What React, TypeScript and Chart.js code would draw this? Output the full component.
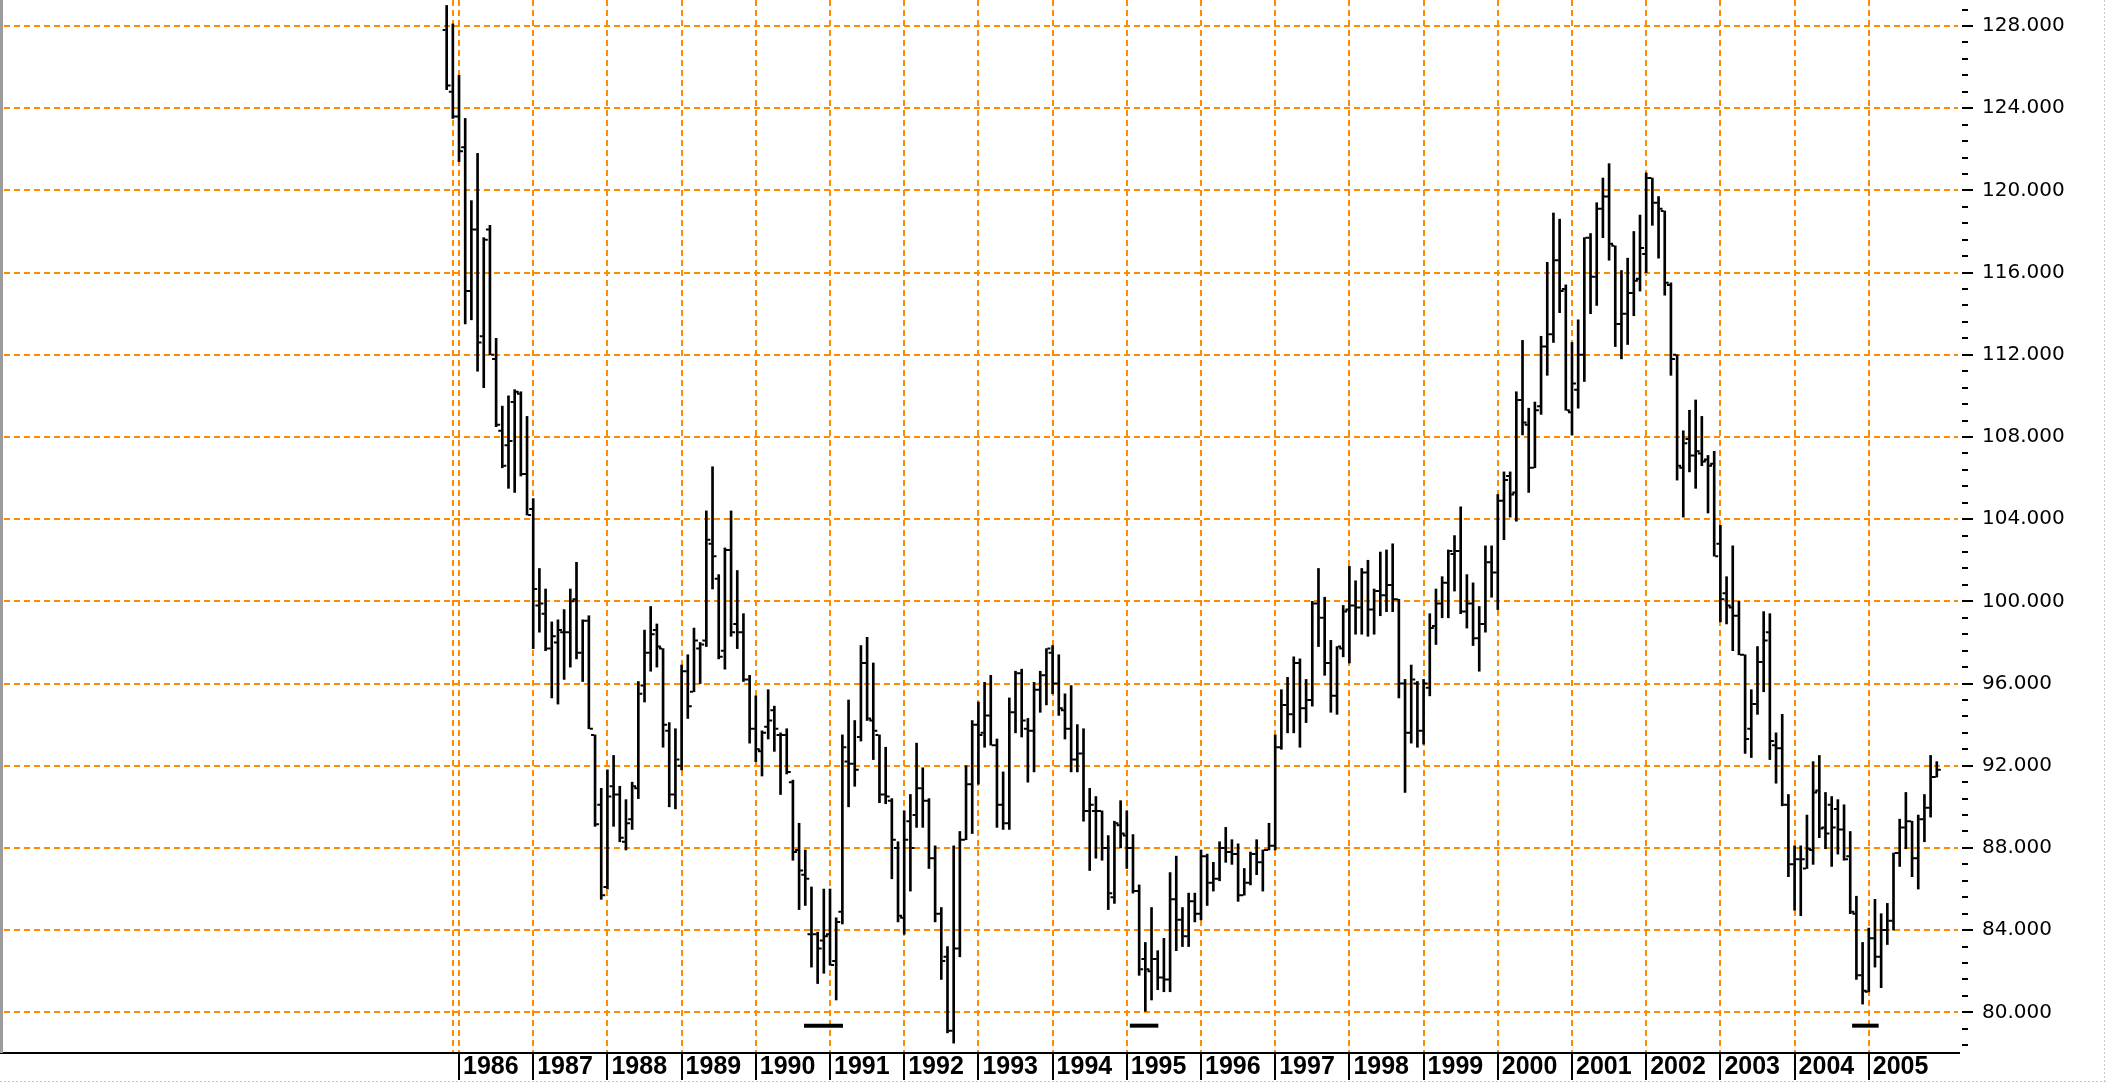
import React, { useEffect, useRef } from 'react';
import { Chart, registerables } from 'chart.js';

Chart.register(...registerables);

// Monthly bars, first bar = Nov 1985 (month index -2, Jan 1986 = 0)
const FIRST_MONTH = -2;

const OPEN = [
  127.8, 124.8,
  123.6, 122.1, 115.1, 118.1, 112.9, 118.1, 111.8, 108.3, 107.6, 109.7, 110.1, 106.2,
  104.5, 99.8, 99.4, 97.7, 98.0, 98.5, 98.5, 100.1, 97.5, 99.05, 93.5, 90.1,
  86.1, 91.0, 90.6, 88.3, 89.4, 90.9, 95.9, 97.5, 98.6, 97.7, 93.7, 90.6,
  92.0, 96.6, 95.6, 97.7, 98.1, 102.8, 101.1, 97.6, 102.5, 98.9, 98.5, 96.2,
  93.8, 92.7, 93.9, 94.7, 93.5, 93.5, 91.2, 87.9, 86.7, 83.8, 83.8, 83.5,
  83.8, 82.5, 84.9, 92.2, 92.1, 93.4, 97.0, 94.2, 93.5, 90.6, 90.3, 88.0,
  84.6, 89.3, 89.6, 90.9, 90.3, 87.5, 84.8, 82.7, 79.1, 83.1, 88.4, 91.1,
  94.0, 93.6, 94.45, 93.0, 90.1, 89.2, 94.6, 96.5, 93.8, 93.7, 95.7, 96.4,
  97.5, 96.0, 94.7, 93.8, 92.3, 92.6, 89.8, 89.8, 89.8, 88.0, 85.6, 89.1,
  88.6, 88.0, 85.9, 82.6, 82.0, 82.6, 81.7, 81.6, 85.5, 84.5, 83.7, 85.4,
  84.8, 87.6, 86.3, 86.5, 88.0, 87.8, 87.7, 85.7, 86.3, 87.7, 87.3, 87.9,
  88.1, 92.9, 94.95, 94.5, 97.0, 94.8, 95.2, 99.9, 99.2, 97.0, 95.4, 97.7,
  99.6, 99.8, 99.7, 101.4, 99.6, 100.5, 100.3, 100.8, 100.1, 96.0, 93.6, 96.0,
  93.7, 95.8, 98.8, 99.9, 100.9, 102.3, 102.45, 99.5, 99.9, 98.2, 98.9, 101.9,
  101.4, 104.9, 106.1, 105.3, 109.8, 108.6, 106.5, 109.5, 112.4, 113.0, 116.6, 115.2,
  109.2, 110.3, 112.0, 117.7, 115.8, 119.1, 119.7, 117.3, 113.5, 114.0, 115.0, 115.7,
  116.9, 120.6, 119.4, 119.0, 115.4, 112.0, 106.5, 107.9, 107.1, 107.2, 106.9, 106.7,
  102.8, 100.4, 99.7, 99.3, 97.4, 93.8, 95.0, 97.05, 98.5, 93.0, 92.85, 90.1,
  87.2, 87.45, 87.0, 87.9, 90.8, 89.0, 90.1, 89.9, 88.9, 87.6, 84.8, 81.8,
  81.0, 83.6, 82.7, 84.0, 84.45, 87.75, 89.0, 89.3, 87.5, 89.4, 89.95, 91.45,
];

const HIGH = [
  129.0, 128.1,
  125.6, 123.5, 119.5, 121.8, 117.7, 118.3, 112.8, 109.5, 110.0, 110.3, 110.2, 109.0,
  105.0, 101.6, 100.6, 99.0, 99.1, 99.6, 100.6, 101.9, 99.1, 99.3, 93.5, 90.9,
  91.8, 92.5, 91.0, 90.35, 91.2, 96.1, 98.6, 99.75, 98.9, 97.7, 94.1, 93.8,
  96.9, 97.4, 98.7, 98.0, 104.4, 106.55, 101.3, 102.6, 104.4, 101.5, 99.4, 96.4,
  95.4, 93.7, 95.7, 94.9, 93.6, 93.8, 91.3, 89.2, 87.9, 86.1, 83.9, 86.0,
  86.0, 84.6, 93.5, 95.2, 94.2, 97.85, 98.25, 97.0, 93.5, 92.9, 90.4, 88.3,
  89.8, 90.6, 93.1, 91.9, 90.4, 88.1, 85.1, 83.2, 88.1, 88.8, 92.0, 94.2,
  95.1, 96.06, 96.4, 93.3, 91.7, 95.3, 96.6, 96.7, 94.3, 96.06, 96.6, 97.7,
  97.85, 97.4, 95.5, 95.9, 94.0, 93.8, 90.9, 90.5, 89.8, 88.6, 89.3, 90.3,
  89.8, 88.65, 86.2, 83.4, 85.1, 83.0, 83.6, 86.8, 87.6, 85.1, 85.8, 85.8,
  87.9, 87.7, 87.3, 88.3, 89.0, 88.4, 88.2, 87.0, 87.8, 88.4, 87.9, 89.2,
  93.5, 95.7, 96.3, 97.3, 97.2, 96.2, 100.0, 101.6, 100.2, 98.1, 97.8, 99.8,
  101.7, 101.0, 101.6, 102.0, 100.6, 102.4, 102.5, 102.8, 100.1, 96.2, 96.9, 96.1,
  96.2, 99.4, 100.6, 101.2, 102.5, 103.2, 104.6, 101.3, 100.9, 99.75, 102.7, 102.7,
  105.2, 106.3, 106.3, 110.2, 112.7, 109.4, 109.7, 112.9, 116.5, 118.9, 118.6, 115.4,
  112.6, 113.7, 117.7, 117.9, 119.4, 120.6, 121.3, 117.3, 116.1, 116.7, 118.0, 118.8,
  120.85, 120.6, 119.7, 119.0, 115.5, 112.0, 108.3, 109.3, 109.8, 109.0, 107.1, 107.3,
  103.7, 101.2, 102.7, 100.0, 97.4, 95.7, 97.8, 99.5, 99.4, 93.6, 94.5, 90.6,
  88.1, 88.1, 89.6, 92.2, 92.5, 90.7, 90.5, 90.35, 90.1, 88.8, 85.65, 83.4,
  84.1, 85.5, 84.8, 85.3, 87.75, 89.4, 90.7, 89.3, 89.6, 90.6, 92.5, 92.2,
];

const LOW = [
  124.9, 123.5,
  121.4, 113.5, 113.7, 111.2, 110.4, 112.0, 108.5, 106.5, 105.5, 105.3, 106.1, 104.2,
  97.7, 98.5, 97.6, 95.3, 95.0, 96.2, 96.8, 97.2, 96.1, 93.8, 89.05, 85.5,
  86.0, 89.05, 88.3, 87.9, 88.9, 90.4, 95.1, 96.6, 96.8, 92.9, 90.0, 89.9,
  91.8, 94.3, 95.6, 96.0, 97.8, 100.6, 97.2, 96.7, 98.3, 97.7, 96.1, 93.1,
  92.2, 91.5, 93.3, 92.7, 90.6, 91.6, 87.4, 85.0, 85.2, 82.2, 81.4, 81.9,
  82.3, 80.6, 84.3, 90.0, 91.0, 93.2, 94.2, 92.3, 90.2, 90.15, 86.5, 84.4,
  83.8, 85.9, 89.0, 89.0, 87.0, 84.4, 81.6, 79.0, 78.5, 82.7, 88.4, 88.7,
  91.1, 92.9, 93.0, 89.0, 88.9, 88.9, 93.6, 93.4, 91.2, 91.7, 94.6, 94.96,
  95.5, 94.45, 93.3, 91.7, 91.7, 89.3, 86.9, 87.5, 87.4, 85.0, 85.3, 88.0,
  87.0, 85.8, 81.8, 80.05, 80.6, 81.1, 81.0, 81.0, 83.0, 83.2, 83.2, 84.4,
  84.5, 85.2, 85.9, 86.4, 87.3, 87.2, 85.4, 85.7, 86.2, 86.7, 85.9, 87.9,
  87.9, 92.8, 93.6, 93.6, 92.9, 94.1, 94.9, 97.8, 96.4, 94.6, 94.5, 97.3,
  97.0, 98.4, 98.4, 98.3, 98.4, 99.3, 99.5, 99.5, 95.3, 90.7, 93.1, 92.9,
  93.05, 95.4, 97.9, 99.2, 99.2, 100.5, 99.4, 98.7, 97.85, 96.6, 98.5, 100.2,
  99.6, 103.0, 104.1, 103.9, 108.1, 105.3, 106.5, 109.1, 111.0, 112.6, 114.05, 109.3,
  108.1, 109.4, 110.7, 114.0, 114.4, 117.7, 116.6, 112.4, 111.8, 112.5, 113.9, 115.1,
  116.0, 118.3, 116.7, 114.9, 111.0, 105.9, 104.1, 106.3, 105.5, 106.6, 104.3, 102.2,
  99.0, 98.9, 97.6, 97.4, 92.6, 92.4, 94.5, 95.6, 92.3, 91.15, 90.05, 86.6,
  84.97, 84.7, 87.0, 87.2, 88.5, 87.96, 87.1, 87.7, 87.4, 84.8, 81.6, 80.4,
  81.0, 82.2, 81.2, 83.3, 84.0, 87.1, 87.96, 86.6, 86.0, 88.3, 89.5, 91.45,
];

const CLOSE = [
  125.1, 123.6,
  121.9, 115.1, 118.1, 112.6, 117.6, 112.0, 108.6, 106.6, 107.8, 110.2, 106.2, 104.2,
  100.6, 99.9, 97.7, 98.3, 98.6, 98.5, 100.0, 97.5, 99.05, 93.8, 89.15, 85.7,
  90.5, 90.6, 88.5, 89.2, 91.0, 95.5, 97.5, 98.4, 97.8, 94.0, 90.6, 92.3,
  96.6, 94.9, 98.1, 97.9, 103.0, 102.2, 97.3, 102.5, 98.5, 98.5, 96.2, 93.8,
  92.8, 93.6, 94.2, 93.8, 93.5, 91.7, 87.8, 86.9, 86.5, 83.8, 83.1, 83.7,
  82.3, 84.4, 92.9, 92.1, 91.8, 97.0, 94.3, 93.7, 90.6, 90.5, 88.4, 84.7,
  88.4, 88.0, 90.9, 90.3, 87.5, 84.8, 82.5, 79.1, 83.1, 88.4, 91.1, 94.0,
  93.5, 94.45, 93.0, 90.1, 89.2, 94.6, 96.5, 94.2, 93.7, 95.7, 96.4, 97.7,
  96.0, 94.8, 93.8, 92.3, 92.6, 89.8, 90.1, 89.8, 88.0, 85.8, 89.2, 88.7,
  88.0, 85.9, 82.1, 82.1, 82.6, 81.7, 81.6, 85.5, 84.5, 83.7, 85.4, 84.8,
  87.6, 86.3, 86.5, 88.0, 87.8, 87.7, 85.7, 86.3, 87.7, 87.3, 87.9, 88.1,
  92.9, 94.95, 94.5, 97.0, 94.8, 95.2, 99.9, 99.2, 97.0, 95.4, 97.8, 99.5,
  99.8, 99.7, 101.4, 99.6, 100.5, 100.3, 100.8, 100.1, 96.0, 93.6, 96.2, 93.7,
  96.0, 98.7, 99.9, 100.9, 102.45, 102.45, 99.5, 99.9, 98.2, 98.9, 101.9, 101.4,
  104.9, 105.9, 105.2, 109.8, 108.7, 106.5, 109.3, 112.4, 113.0, 116.6, 115.1, 109.3,
  110.6, 112.0, 117.7, 115.8, 119.1, 119.7, 117.4, 113.5, 114.0, 115.0, 115.6, 117.2,
  120.6, 119.4, 119.1, 115.5, 111.8, 106.6, 107.7, 107.1, 107.3, 106.8, 106.6, 102.2,
  100.1, 99.8, 99.3, 97.4, 93.3, 95.0, 97.05, 98.1, 93.2, 92.85, 90.1, 87.2,
  87.45, 87.45, 87.96, 90.7, 88.95, 88.7, 89.0, 88.9, 87.45, 84.9, 81.8, 81.05,
  83.6, 82.7, 84.0, 84.45, 87.75, 89.0, 89.3, 87.5, 89.4, 89.95, 91.45, 91.8,
];

const YEAR_LABELS = [
  '1986', '1987', '1988', '1989', '1990', '1991', '1992', '1993', '1994', '1995',
  '1996', '1997', '1998', '1999', '2000', '2001', '2002', '2003', '2004', '2005',
];
const EXTRA_X_GRID = [-1];
const Y_TICKS = [80, 84, 88, 92, 96, 100, 104, 108, 112, 116, 120, 124, 128];

// Horizontal low markers (month index span, value level)
const LOW_MARK_START = [55.8, 108.5, 225.3];
const LOW_MARK_END = [62.1, 113.1, 229.6];
const LOW_MARK_LEVEL = 79.35;

const X_MIN = -73.59;
const X_MAX = 242.43;
const Y_MIN = 78.02;
const Y_MAX = 129.265;

const ORANGE = '#ff8c00';

export default function App() {
  const ref = useRef<HTMLCanvasElement>(null);

  useEffect(() => {
    const canvas = ref.current;
    if (!canvas) return;
    const months = OPEN.map((_, i) => FIRST_MONTH + i);
    const yearTicks = YEAR_LABELS.map((_, k) => k * 12);

    const decor = {
      id: 'decor',
      afterDatasetsDraw(chart: any) {
        const { ctx, scales } = chart;
        const x = scales.x;
        const y = scales.y;
        ctx.save();
        ctx.strokeStyle = '#000';
        ctx.lineWidth = 2;
        ctx.beginPath();
        months.forEach((m, i) => {
          const px = x.getPixelForValue(m);
          const yo = y.getPixelForValue(OPEN[i]);
          const yc = y.getPixelForValue(CLOSE[i]);
          ctx.moveTo(px - 4, yo);
          ctx.lineTo(px - 1, yo);
          ctx.moveTo(px + 1, yc);
          ctx.lineTo(px + 4, yc);
        });
        ctx.stroke();
        ctx.restore();
      },
      afterDraw(chart: any) {
        const { ctx, chartArea, scales } = chart;
        const x = scales.x;
        const y = scales.y;
        ctx.save();
        // axis line
        ctx.fillStyle = '#000';
        ctx.fillRect(0, chartArea.bottom - 1, chartArea.right + 2, 2);
        // year separators
        yearTicks.forEach((v) => {
          const px = Math.round(x.getPixelForValue(v));
          ctx.fillRect(px - 1, chartArea.bottom, 2, 27);
        });
        // right axis major / minor ticks
        const r = chartArea.right;
        Y_TICKS.forEach((v) => {
          const py = Math.round(y.getPixelForValue(v));
          ctx.fillRect(r + 4, py - 1, 11, 2);
        });
        for (let k = -2; k <= 61; k++) {
          if (k % 5 === 0) continue;
          const v = Y_TICKS[0] + (k * 4) / 5;
          if (v < y.min || v > y.max) continue;
          const py = Math.round(y.getPixelForValue(v));
          ctx.fillRect(r + 4, py - 1, 6, 2);
        }
        // left gray border
        ctx.fillStyle = '#9c9c9c';
        ctx.fillRect(0, 0, 3, chartArea.bottom);
        // bottom dotted line and right dotted border
        ctx.strokeStyle = '#c8c8c8';
        ctx.lineWidth = 1;
        ctx.setLineDash([2, 2]);
        ctx.beginPath();
        ctx.moveTo(0, 1081.5);
        ctx.lineTo(chart.width, 1081.5);
        ctx.moveTo(chart.width - 2.5, 0);
        ctx.lineTo(chart.width - 2.5, chart.height);
        ctx.stroke();
        ctx.restore();
      },
    };

    const markerSets = LOW_MARK_START.map((s, k) => ({
      type: 'line' as const,
      data: [
        { x: s, y: LOW_MARK_LEVEL },
        { x: LOW_MARK_END[k], y: LOW_MARK_LEVEL },
      ],
      borderColor: '#000',
      borderWidth: 4,
      pointRadius: 0,
      borderCapStyle: 'butt' as const,
    }));

    const chart = new Chart(canvas, {
      type: 'bar',
      data: {
        datasets: [
          {
            type: 'bar',
            data: months.map((m, i) => ({ x: m, y: [LOW[i], HIGH[i]] })) as any,
            backgroundColor: '#000',
            borderWidth: 0,
            barThickness: 2,
            grouped: false,
          } as any,
          ...markerSets,
        ],
      },
      options: {
        responsive: false,
        animation: false,
        events: [],
        layout: { padding: { left: 4, top: 0, right: 0, bottom: 0 } },
        plugins: { legend: { display: false }, tooltip: { enabled: false } },
        scales: {
          x: {
            type: 'linear',
            min: X_MIN,
            max: X_MAX,
            offset: false,
            grid: { color: ORANGE, lineWidth: 2, drawTicks: false, offset: false },
            border: { display: false, dash: [6, 4] },
            afterBuildTicks: (s: any) => {
              s.ticks = [...EXTRA_X_GRID, ...yearTicks].map((v) => ({ value: v }));
            },
            afterFit: (s: any) => {
              s.height = 31;
              s.paddingLeft = 0;
              s.paddingRight = 0;
              s.paddingTop = 0;
              s.paddingBottom = 0;
            },
            ticks: {
              autoSkip: false,
              maxRotation: 0,
              minRotation: 0,
              align: 'start',
              labelOffset: 4,
              padding: 2,
              color: '#000',
              font: { family: 'Liberation Sans', size: 25, weight: 'bold', lineHeight: 1 },
              callback: (v: any) => {
                const k = Number(v) / 12;
                return Number.isInteger(k) && k >= 0 ? YEAR_LABELS[k] : '';
              },
            },
          },
          y: {
            type: 'linear',
            position: 'right',
            min: Y_MIN,
            max: Y_MAX,
            grid: { color: ORANGE, lineWidth: 2, drawTicks: false },
            border: { display: false, dash: [6, 4] },
            afterBuildTicks: (s: any) => {
              s.ticks = Y_TICKS.map((v) => ({ value: v }));
            },
            afterFit: (s: any) => {
              s.width = 149;
              s.paddingLeft = 0;
              s.paddingRight = 0;
              s.paddingTop = 0;
              s.paddingBottom = 0;
            },
            ticks: {
              padding: 24,
              color: '#000',
              font: { family: 'DejaVu Sans', size: 20 },
              callback: (v: any) => Number(v).toFixed(3),
            },
          },
        },
      },
      plugins: [decor],
    });

    return () => chart.destroy();
  }, []);

  return (
    <div style={{ position: 'fixed', left: 0, top: 0, width: 2107, height: 1084, background: '#fff' }}>
      <canvas ref={ref} width={2107} height={1084} style={{ display: 'block' }} />
    </div>
  );
}
